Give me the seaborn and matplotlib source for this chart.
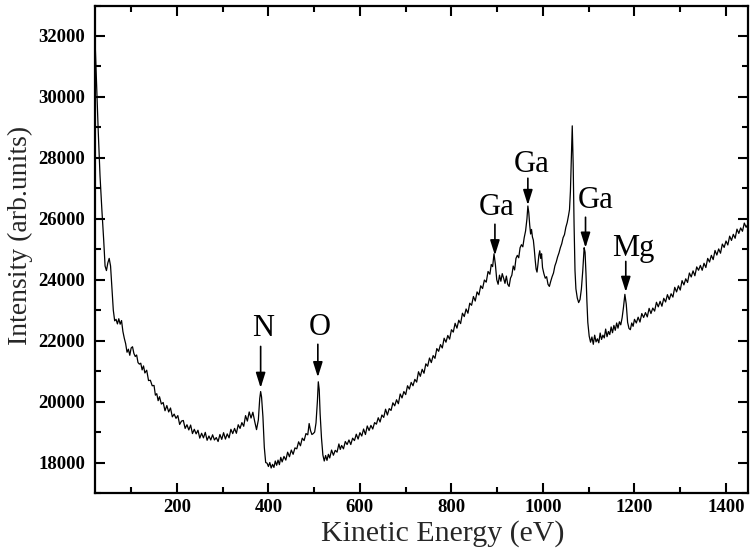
import matplotlib
matplotlib.use("Agg")
import matplotlib.pyplot as plt
from matplotlib.ticker import MultipleLocator
import seaborn as sns
import pandas as pd

# ---- data (Auger spectrum) ----
energy = [
    21, 24, 28, 32, 36, 40, 43, 46, 49, 52, 55, 58, 61, 64, 67, 70,
    73, 76, 79, 82, 85, 88, 91, 94, 97, 100, 103, 106, 109, 112, 115, 118,
    121, 124, 127, 130, 134, 138, 142, 146, 150, 153, 156, 159, 162, 166,
    170, 174, 178, 182, 186, 190, 194, 198, 202, 206, 210, 214, 218, 222,
    226, 230, 234, 238, 242, 246, 250, 254, 258, 262, 266, 270, 274, 278,
    282, 286, 290, 294, 298, 302, 306, 310, 314, 318, 322, 326, 330, 334,
    338, 342, 346, 350, 354, 358, 362, 366, 370, 374, 378, 381, 383, 385,
    388, 391, 394, 397, 400, 403, 406, 409, 412, 415, 418, 421, 424, 427,
    430, 434, 438, 442, 446, 450, 454, 458, 462, 466, 470, 474, 478, 482,
    486, 489, 492, 495, 498, 501, 504, 507, 509, 511, 513, 516, 519, 522,
    525, 528, 531, 534, 538, 542, 546, 550, 554, 557, 560, 564, 568, 572,
    576, 580, 584, 588, 592, 596, 600, 604, 608, 612, 616, 620, 624, 628,
    632, 636, 640, 644, 648, 652, 656, 660, 664, 668, 672, 676, 680, 684,
    688, 692, 696, 700, 704, 708, 712, 716, 720, 724, 728, 732, 736, 740,
    744, 748, 752, 756, 760, 764, 768, 772, 776, 780, 784, 788, 792, 796,
    800, 804, 808, 812, 816, 820, 824, 828, 832, 836, 840, 844, 848, 852,
    856, 860, 864, 868, 872, 876, 880, 884, 887, 890, 893, 896, 899, 902,
    905, 908, 911, 914, 917, 920, 923, 926, 929, 932, 935, 938, 941, 944,
    947, 950, 953, 956, 959, 962, 965, 967, 969, 971, 973, 975, 977, 979,
    981, 983, 985, 987, 989, 991, 993, 995, 997, 999, 1002, 1005, 1008,
    1011, 1014, 1017, 1020, 1023, 1026, 1029, 1032, 1035, 1038, 1041, 1044,
    1047, 1050, 1053, 1056, 1058, 1060, 1062, 1064, 1066, 1068, 1070, 1072,
    1075, 1078, 1081, 1084, 1087, 1090, 1092, 1094, 1096, 1098, 1101, 1104,
    1107, 1110, 1113, 1116, 1119, 1122, 1125, 1128, 1131, 1134, 1137, 1140,
    1143, 1146, 1149, 1152, 1155, 1158, 1161, 1164, 1167, 1170, 1173, 1176,
    1179, 1182, 1185, 1188, 1191, 1194, 1197, 1200, 1204, 1208, 1212, 1216,
    1220, 1224, 1228, 1232, 1236, 1240, 1244, 1248, 1252, 1256, 1260, 1264,
    1268, 1272, 1276, 1280, 1284, 1288, 1292, 1296, 1300, 1304, 1308, 1312,
    1316, 1320, 1324, 1328, 1332, 1336, 1340, 1344, 1348, 1352, 1356, 1360,
    1364, 1368, 1372, 1376, 1380, 1384, 1388, 1392, 1396, 1400, 1404, 1408,
    1412, 1416, 1420, 1424, 1428, 1432, 1436, 1440, 1444, 1447,
]
intensity = [
    31900, 30600, 28900, 27400, 26300, 25300, 24450, 24300, 24550, 24700, 24450, 23700, 23000, 22650, 22700, 22550,
    22720, 22540, 22660, 22300, 22080, 21900, 21620, 21720, 21520, 21760, 21800, 21580, 21480, 21530, 21280, 21230,
    21260, 21040, 21170, 20940, 21030, 20690, 20700, 20520, 20530, 20210, 20260, 20030, 20160, 19920,
    19970, 19700, 19870, 19660, 19790, 19500, 19590, 19450, 19540, 19250, 19360, 19380, 19120, 19240,
    19070, 19230, 18950, 19090, 18940, 19060, 18800, 18960, 18810, 18990, 18730, 18870, 18740, 18910,
    18740, 18820, 18690, 18920, 18760, 18980, 18770, 18940, 18810, 19090, 18950, 19120, 18960, 19240,
    19120, 19310, 19190, 19540, 19360, 19660, 19460, 19650, 19350, 19080, 19400, 20100, 20330, 20150,
    19500, 18500, 18000, 17980, 17870, 18000, 17820, 17940, 17840, 18050, 17910, 18080, 17930, 18170,
    18020, 18200, 18080, 18340, 18190, 18410, 18270, 18480, 18450, 18680, 18550, 18800, 18720, 18950,
    18910, 19280, 19050, 18920, 18950, 19000, 19300, 20000, 20650, 20400, 19600, 18800, 18250, 18050,
    18230, 18070, 18270, 18150, 18410, 18240, 18400, 18340, 18610, 18430, 18560, 18450, 18690, 18590,
    18740, 18590, 18800, 18720, 18930, 18770, 18980, 18870, 19100, 18920, 19200, 19050, 19220, 19100,
    19310, 19260, 19470, 19330, 19560, 19480, 19750, 19560, 19770, 19710, 19960, 19860, 20060, 19930,
    20250, 20120, 20330, 20230, 20520, 20410, 20630, 20520, 20730, 20640, 20980, 20830, 21060, 20930,
    21240, 21160, 21430, 21280, 21510, 21420, 21740, 21650, 21870, 21760, 22080, 21950, 22170, 22050,
    22360, 22280, 22570, 22410, 22670, 22560, 22900, 22790, 23040, 22900, 23230, 23160, 23450, 23300,
    23600, 23500, 23800, 23710, 23990, 23920, 24270, 24180, 24500, 24430, 24850, 24500, 24000, 23850,
    24150, 23950, 24200, 24050, 23880, 24120, 23850, 23780, 24050, 24150, 24450, 24320, 24700, 24800,
    24720, 25050, 25150, 25080, 25380, 25600, 26000, 26420, 26200, 25800, 25500, 25650, 25400, 25300,
    25000, 24650, 24350, 24250, 24500, 24800, 24950, 24700, 24850, 24400, 24200, 24050, 24100,
    23850, 23780, 23950, 24100, 24220, 24450, 24580, 24750, 24880, 25050, 25180, 25380,
    25480, 25720, 25880, 26120, 26300, 26900, 28000, 29050, 27800, 25800, 24300, 23700,
    23400, 23250, 23350, 23700, 24300, 25050, 24900, 24200, 23300, 22600, 22150, 21950,
    22120, 21880, 22180, 21960, 22060, 21930, 22250, 22040, 22180, 22090, 22380, 22130,
    22300, 22200, 22450, 22260, 22500, 22340, 22580, 22410, 22620, 22520, 22750, 23100,
    23520, 23200, 22600, 22400, 22360, 22580, 22470, 22700, 22580, 22770, 22610, 22890,
    22760, 22920, 22780, 23060, 22890, 23070, 22970, 23260, 23110, 23290, 23130, 23390,
    23270, 23510, 23350, 23540, 23430, 23750, 23600, 23800, 23660, 23970, 23830, 24030,
    23910, 24220, 24090, 24290, 24130, 24420, 24310, 24470, 24310, 24540, 24400, 24700,
    24580, 24800, 24660, 24960, 24810, 25010, 24870, 25170, 25060, 25270, 25140, 25430,
    25290, 25490, 25360, 25660, 25520, 25700, 25590, 25860, 25720, 25800,
]

peak_labels = ["N", "O", "Ga", "Ga", "Ga", "Mg"]
label_x = [389, 512, 899, 976, 1114, 1197]
label_y = [22140, 22170, 26140, 27520, 26370, 24770]
arrow_x = [383, 508, 895, 967, 1093, 1181]
arrow_start = [21810, 21880, 25820, 27330, 26050, 24600]
arrow_end = [20450, 20800, 24800, 26450, 25050, 23600]

x_ticks = [200, 400, 600, 800, 1000, 1200, 1400]
y_ticks = [18000, 20000, 22000, 24000, 26000, 28000, 30000, 32000]

# ---- styling ----
sns.set_style("ticks")
plt.rcParams["font.family"] = ["Liberation Serif", "DejaVu Serif"]

fig = plt.figure(figsize=(7.5, 5.52), dpi=100)
ax = fig.add_axes([95 / 750, 1 - 493 / 552, (747.5 - 95) / 750, (493 - 5.5) / 552])

df = pd.DataFrame({"Kinetic Energy (eV)": energy, "Intensity": intensity})
sns.lineplot(data=df, x="Kinetic Energy (eV)", y="Intensity", ax=ax,
             color="black", linewidth=0.9, estimator=None, sort=False)

for lab, tx, ty, axx, a0, a1 in zip(peak_labels, label_x, label_y,
                                     arrow_x, arrow_start, arrow_end):
    ax.text(tx, ty, lab, ha="center", va="baseline", fontsize=22, color="black")
    ax.annotate("", xy=(axx, a1), xytext=(axx, a0),
                arrowprops=dict(arrowstyle="-|>,head_width=0.22,head_length=0.7",
                                color="black", lw=1.2, mutation_scale=13,
                                shrinkA=0, shrinkB=0))

ax.set_xlim(21, 1447)
ax.set_ylim(17000, 33000)
ax.set_xticks(x_ticks)
ax.set_yticks(y_ticks)
ax.xaxis.set_minor_locator(MultipleLocator(100))
ax.yaxis.set_minor_locator(MultipleLocator(1000))

ax.tick_params(which="both", direction="in", top=True, right=True, width=1.5,
               colors="black")
ax.tick_params(which="major", length=7, labelsize=13.5)
ax.tick_params(axis="x", which="major", pad=4)
ax.tick_params(axis="y", which="major", pad=7)
ax.tick_params(which="minor", length=4)
for lab in ax.get_xticklabels() + ax.get_yticklabels():
    lab.set_fontweight("bold")

for sp in ax.spines.values():
    sp.set_visible(True)
    sp.set_linewidth(1.6)
    sp.set_color("black")

ax.set_xlabel("Kinetic Energy (eV)", fontsize=21.5)
ax.set_ylabel("Intensity (arb.units)", fontsize=20)
ax.xaxis.set_label_coords(0.533, -0.056)
ax.yaxis.set_label_coords(-0.095, 0.529)

fig.savefig("out.png", dpi=100)
